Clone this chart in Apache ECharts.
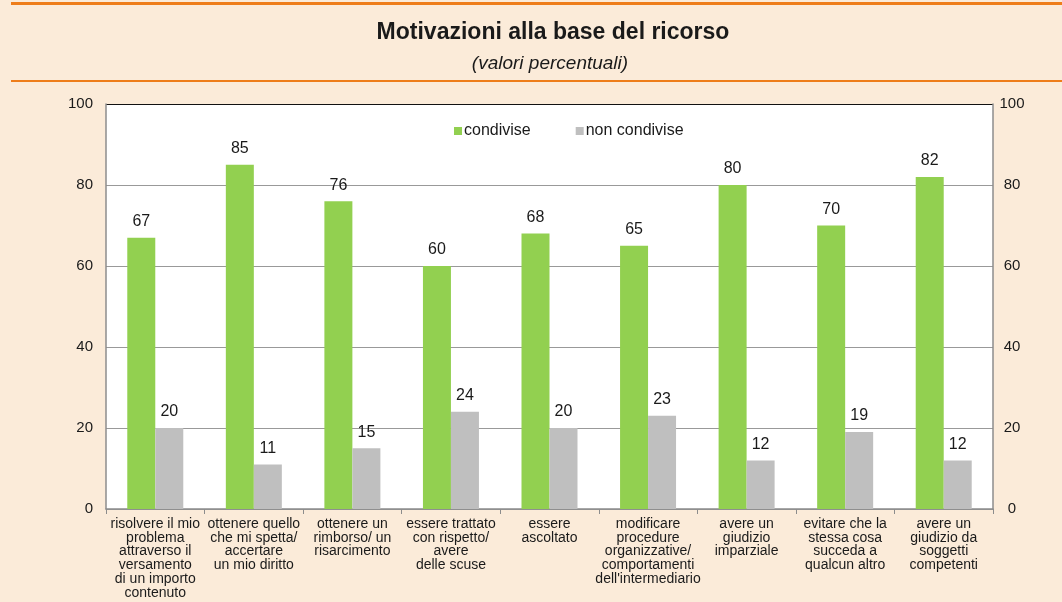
<!DOCTYPE html>
<html>
<head>
<meta charset="utf-8">
<script src="https://cdn.jsdelivr.net/npm/echarts@6/dist/echarts.min.js"></script>
<style>
  html, body { margin: 0; padding: 0; background: #FBEBD9; }
  #chart { width: 1062px; height: 602px; }
</style>
</head>
<body>
<div id="chart"></div>
<script>
// Motivations behind the complaint, percentage values
const categories = [
  'risolvere il mio\nproblema\nattraverso il\nversamento\ndi un importo\ncontenuto',
  'ottenere quello\nche mi spetta/\naccertare\nun mio diritto',
  'ottenere un\nrimborso/ un\nrisarcimento',
  'essere trattato\ncon rispetto/\navere\ndelle scuse',
  'essere\nascoltato',
  'modificare\nprocedure\norganizzative/\ncomportamenti\ndell\'intermediario',
  'avere un\ngiudizio\nimparziale',
  'evitare che la\nstessa cosa\nsucceda a\nqualcun altro',
  'avere un\ngiudizio da\nsoggetti\ncompetenti'
];
const condivise = [67, 85, 76, 60, 68, 65, 80, 70, 82];
const nonCondivise = [20, 11, 15, 24, 20, 23, 12, 19, 12];
const yTicks = [0, 20, 40, 60, 80, 100];

const FONT = '"Liberation Sans", Arial, sans-serif';
const chart = echarts.init(document.getElementById('chart'), null, { renderer: 'canvas' });

const yAxisBase = {
  type: 'value', min: yTicks[0], max: yTicks[yTicks.length - 1], interval: yTicks[1] - yTicks[0],
  axisLine: { show: true, lineStyle: { color: '#8c8c8c', width: 1.5 } },
  axisTick: { show: false }
};

const barLabel = { show: true, position: 'top', distance: 8, fontSize: 16, color: '#1a1a1a', fontFamily: FONT };

chart.setOption({
  backgroundColor: '#FBEBD9',
  animation: false,
  textStyle: { fontFamily: FONT },
  title: [
    { text: 'Motivazioni alla base del ricorso', left: 548, textAlign: 'center', top: 16,
      textStyle: { fontSize: 23, fontWeight: 'bold', color: '#1a1a1a', fontFamily: FONT } },
    { text: '(valori percentuali)', left: 545, textAlign: 'center', top: 49,
      textStyle: { fontSize: 19, fontStyle: 'italic', fontWeight: 'normal', color: '#1a1a1a', fontFamily: FONT } }
  ],
  graphic: [
    { type: 'rect', shape: { x: 11, y: 2, width: 1051, height: 3 }, style: { fill: '#EE7D1A' } },
    { type: 'rect', shape: { x: 11, y: 80, width: 1051, height: 2 }, style: { fill: '#EE7D1A' } }
  ],
  legend: {
    data: ['condivise', 'non condivise'],
    left: 449, top: 118, itemWidth: 8, itemHeight: 8, itemGap: 45,
    icon: 'rect',
    textStyle: { fontSize: 16, color: '#1a1a1a', fontFamily: FONT, padding: [0, 0, 0, -3] }
  },
  grid: { left: 106, right: 69, top: 104, bottom: 93, show: true, backgroundColor: '#ffffff', borderWidth: 0 },
  xAxis: {
    type: 'category', data: categories,
    axisLine: { lineStyle: { color: '#8c8c8c', width: 1.5 } },
    axisTick: { show: true, alignWithLabel: false, length: 5, lineStyle: { color: '#8c8c8c' } },
    axisLabel: { interval: 0, color: '#1a1a1a', fontSize: 14, lineHeight: 13.8, fontFamily: FONT, margin: 8 }
  },
  yAxis: [
    Object.assign({}, yAxisBase, {
      position: 'left',
      axisLabel: { color: '#1a1a1a', fontSize: 15, fontFamily: FONT, margin: 13 },
      splitLine: { show: true, lineStyle: { color: ['#999', '#999', '#999', '#999', '#999', '#111'], width: 1.2 } }
    }),
    Object.assign({}, yAxisBase, {
      position: 'right',
      axisLabel: { color: '#1a1a1a', fontSize: 15, fontFamily: FONT, margin: 19, align: 'center' },
      splitLine: { show: false }
    })
  ],
  series: [
    { name: 'condivise', type: 'bar', data: condivise, barWidth: 28, barGap: '0%',
      itemStyle: { color: '#92D050' }, label: barLabel },
    { name: 'non condivise', type: 'bar', data: nonCondivise, barWidth: 28, barGap: '0%',
      itemStyle: { color: '#BFBFBF' }, label: barLabel }
  ]
});
</script>
</body>
</html>
